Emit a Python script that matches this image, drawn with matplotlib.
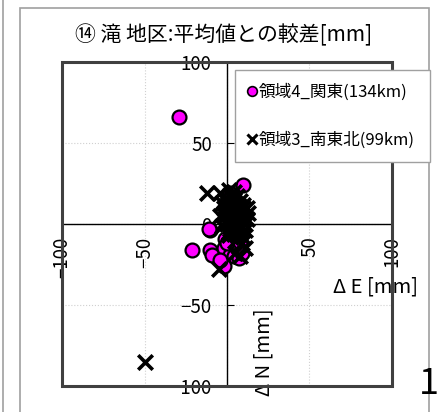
import matplotlib
matplotlib.use("Agg")
import matplotlib.pyplot as plt
from matplotlib.patches import Rectangle
from matplotlib.lines import Line2D

plt.rcParams['font.family'] = ['Noto Sans CJK JP', 'DejaVu Sans']
plt.rcParams['axes.unicode_minus'] = True

# region 4 (Kanto) - magenta circles
kanto_e = [-29, 10, 2, -10, -21, -10, -9, -2, -1, 2, 4, -2, 6, 8, 4, 1, 0, 8, 3, 5, -11, 7, 9, -4]
kanto_n = [66, 24, 19, -4, -16, -16, -19, -15, -9, -19, -20, -26, -15, -8, -11, -2, -12, -11, 15, -5, -3, -21, -18, -22]

# region 3 (south Tohoku) - black crosses
tohoku_e = [-50, -12, -4, 13, -5, 8, 1, 3, 5, 0, 2, 4, 6, -2, 1, 3, 7, 0, 2, 5,
            -1, 4, 6, 9, 5, 7, 2, 4, 10, 1, 6, -1, 2, 11, -3,
            -4, -3, 8, 10, 12, 9, 11, 6, 4, -2, 0, 3, 7, 9, 5, 1, 8, 6, 10,
            -1, 4, 7, 12, 0, 5, 9, 2, 6, 11]
tohoku_n = [-85, 19, 19, 7, -28, -20, 21, 16, 12, 14, 9, 6, 3, 10, 4, 1, 8, 0, -3, -1,
            5, -6, -9, -12, -18, 11, 18, 15, -8, -5, -3, 2, 7, 0, 13,
            5, -1, 14, 10, 3, 1, -4, 17, 20, 7, 12, 3, 5, -2, 9, -7, 7, -7, 12,
            15, 1, -4, 10, 6, 13, 5, 2, 9, -15]

ticks = [-100, -50, 0, 50, 100]
xtick_labels = ['\u2212100', '\u221250', '', '50', '100']
ytick_labels = ['\u2212100', '\u221250', '0', '50', '100']

W, H = 439, 412
fig = plt.figure(figsize=(W / 100, H / 100), dpi=100)
ax = fig.add_axes([62 / W, 1 - 386 / H, 330 / W, 324 / H])

ax.set_xlim(-100, 100)
ax.set_ylim(-100, 100)

ax.scatter(kanto_e, kanto_n, s=100, c='#ff00ff', edgecolors='black', linewidths=1.6, zorder=3)
ax.scatter(tohoku_e, tohoku_n, s=110, marker='x', c='black', linewidths=2.6, zorder=4)

# zero lines as spines, outer box as patch
ax.spines['left'].set_position(('data', 0))
ax.spines['bottom'].set_position(('data', 0))
ax.spines['top'].set_visible(False)
ax.spines['right'].set_visible(False)
for s in ('left', 'bottom'):
    ax.spines[s].set_linewidth(1.0)
    ax.spines[s].set_color('black')
ax.add_patch(Rectangle((0, 0), 1, 1, transform=ax.transAxes, fill=False,
                       edgecolor='#404040', lw=2.2, zorder=5, clip_on=False))

ax.set_xticks(ticks)
ax.set_xticklabels(xtick_labels, rotation=90)
ax.set_yticks(ticks)
ax.set_yticklabels(ytick_labels)
ax.tick_params(axis='x', length=0, pad=9, labelsize=13.5)
ax.tick_params(axis='y', direction='in', length=5, pad=11, labelsize=13.5)
ax.grid(True, color='#d0d0d0', linestyle=':', linewidth=0.8)
ax.set_axisbelow(True)

ax.text(1.079, 0.306, '\u0394 E [mm]', transform=ax.transAxes, ha='right', va='center', fontsize=14.5)
ax.text(0.612, 0.105, '\u0394 N [mm]', transform=ax.transAxes, ha='center', va='center',
        rotation=90, fontsize=14.5)

fig.text(224 / W, 1 - 35 / H, '\u246d 滝 地区:平均値との較差[mm]', ha='center', va='center', fontsize=15)
fig.text(429 / W, 1 - 384 / H, '1', ha='center', va='center', fontsize=26)

handles = [
    Line2D([], [], marker='o', ls='none', mfc='#ff00ff', mec='black', ms=7, mew=1.2),
    Line2D([], [], marker='x', ls='none', color='black', ms=7, mew=2.2),
]
leg = fig.legend(handles, ['領域4_関東(134km)', '領域3_南東北(99km)'],
                 loc='upper left', bbox_to_anchor=(235 / W, 1 - 162 / H, 195 / W, 92 / H),
                 mode='expand', fontsize=12, frameon=True, fancybox=False, framealpha=1,
                 edgecolor='#a0a0a0', handlelength=0.5, handletextpad=0.15,
                 labelspacing=1.85, borderpad=0.8, borderaxespad=0)
leg.get_frame().set_linewidth(1.0)

# outer panel frame
fig.add_artist(Rectangle((20 / W, -0.01), 409 / W, 1 - 8 / H + 0.01, transform=fig.transFigure,
                         fill=False, edgecolor='#a0a0a0', lw=1.2))
fig.add_artist(Line2D([3 / W, 3 / W], [0, 1], transform=fig.transFigure, color='#a0a0a0', lw=1.2))

fig.savefig('out.png', dpi=100)
